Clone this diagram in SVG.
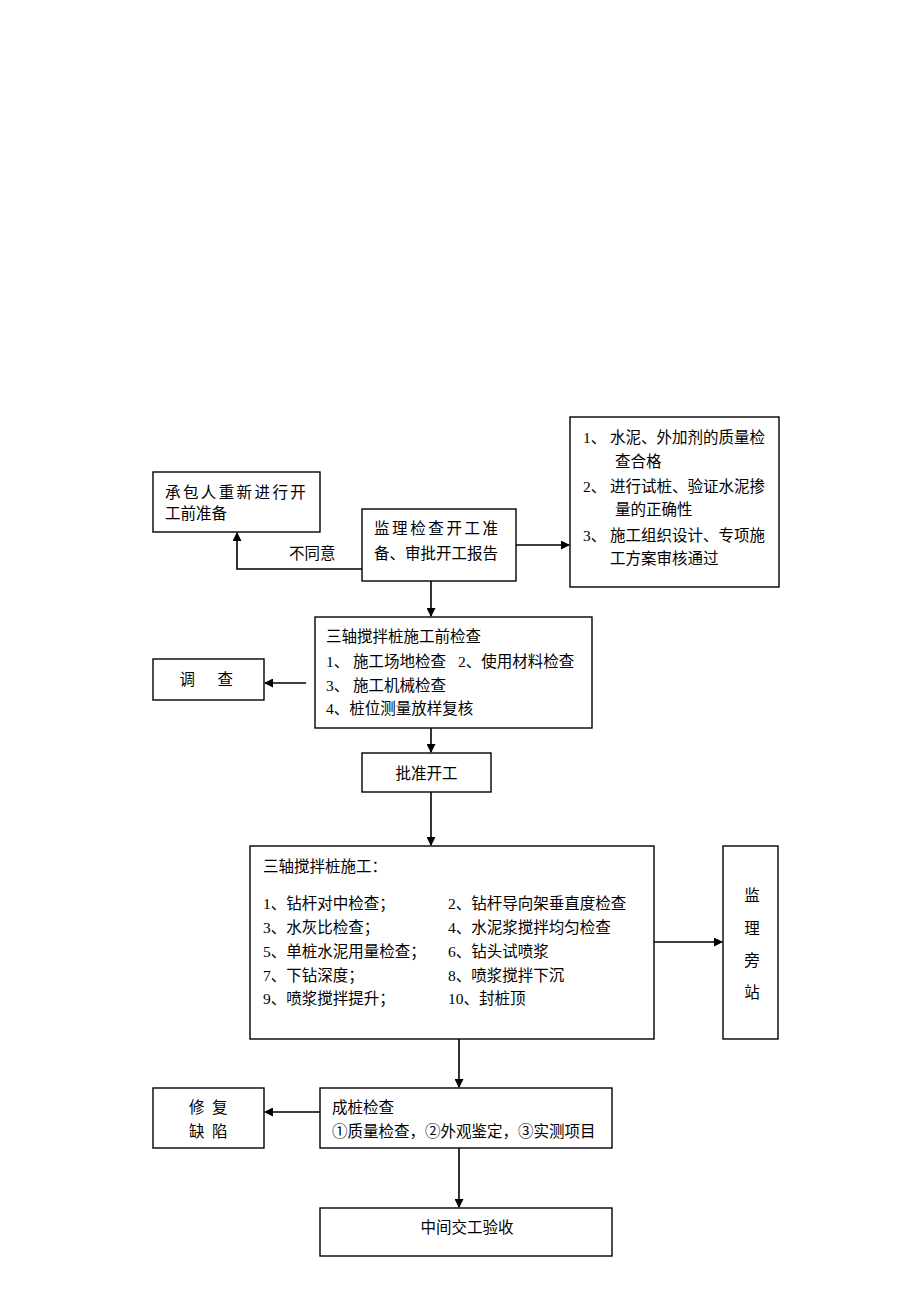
<svg xmlns="http://www.w3.org/2000/svg" width="920" height="1302" viewBox="0 0 920 1302">
<defs>
<style>
.box{fill:#fff;stroke:#000;stroke-width:1.4}
.t{font-family:"Liberation Serif","Noto Sans CJK SC",serif;font-size:15.5px;fill:#000}
.c{text-anchor:middle}
.ln{fill:none;stroke:#000;stroke-width:1.6}
</style>
<marker id="ah" markerWidth="9" markerHeight="9" refX="8" refY="4.5" orient="auto" markerUnits="userSpaceOnUse">
<path d="M0,0 L9,4.5 L0,9 z" fill="#000"/>
</marker>
</defs>
<rect width="920" height="1302" fill="#fff"/>

<g id="n-contractor">
<rect class="box" x="153" y="472" width="167" height="60"/>
<text class="t" x="165" y="498" letter-spacing="2.4">承包人重新进行开</text>
<text class="t" x="165" y="519">工前准备</text>
</g>

<g id="n-supervise">
<rect class="box" x="362" y="509" width="154" height="72"/>
<text class="t" x="374" y="534" letter-spacing="2.6">监理检查开工准</text>
<text class="t" x="374" y="559">备、审批开工报告</text>
</g>

<g id="n-conditions">
<rect class="box" x="570" y="417" width="209" height="170"/>
<text class="t" x="583" y="443">1、</text><text class="t" x="610" y="443">水泥、外加剂的质量检</text>
<text class="t" x="615" y="467">查合格</text>
<text class="t" x="583" y="492">2、</text><text class="t" x="610" y="492">进行试桩、验证水泥掺</text>
<text class="t" x="615" y="515">量的正确性</text>
<text class="t" x="583" y="541">3、</text><text class="t" x="610" y="541">施工组织设计、专项施</text>
<text class="t" x="610" y="564">工方案审核通过</text>
</g>

<g id="n-precheck">
<rect class="box" x="315" y="617" width="277" height="111"/>
<text class="t" x="326" y="642">三轴搅拌桩施工前检查</text>
<text class="t" y="667"><tspan x="326">1、</tspan><tspan x="353">施工场地检查</tspan><tspan x="458">2、使用材料检查</tspan></text>
<text class="t" y="691"><tspan x="326">3、</tspan><tspan x="353">施工机械检查</tspan></text>
<text class="t" x="326" y="714">4、桩位测量放样复核</text>
</g>

<g id="n-investigate">
<rect class="box" x="153" y="659" width="111" height="41"/>
<text class="t"><tspan x="179.5" y="685">调</tspan><tspan x="217.5" y="685">查</tspan></text>
</g>

<g id="n-approve">
<rect class="box" x="362" y="753" width="129" height="39"/>
<text class="t c" x="426.5" y="779">批准开工</text>
</g>

<g id="n-construct">
<rect class="box" x="250" y="846" width="404" height="193"/>
<text class="t" x="263" y="872">三轴搅拌桩施工：</text>
<text class="t" x="263" y="909">1、钻杆对中检查；</text>
<text class="t" x="263" y="933">3、水灰比检查；</text>
<text class="t" x="263" y="957">5、单桩水泥用量检查；</text>
<text class="t" x="263" y="981">7、下钻深度；</text>
<text class="t" x="263" y="1004">9、喷浆搅拌提升；</text>
<text class="t" x="448" y="909">2、钻杆导向架垂直度检查</text>
<text class="t" x="448" y="933">4、水泥浆搅拌均匀检查</text>
<text class="t" x="448" y="957">6、钻头试喷浆</text>
<text class="t" x="448" y="981">8、喷浆搅拌下沉</text>
<text class="t" x="448" y="1004">10、封桩顶</text>
</g>

<g id="n-sideline">
<rect class="box" x="723" y="846" width="55" height="193"/>
<text class="t c" x="752" y="901">监</text>
<text class="t c" x="752" y="934">理</text>
<text class="t c" x="752" y="966">旁</text>
<text class="t c" x="752" y="998">站</text>
</g>

<g id="n-pilecheck">
<rect class="box" x="320" y="1088" width="292" height="60"/>
<text class="t" x="332" y="1113">成桩检查</text>
<text class="t" x="332" y="1137">①质量检查，②外观鉴定，③实测项目</text>
</g>

<g id="n-repair">
<rect class="box" x="153" y="1088" width="111" height="60"/>
<text class="t"><tspan x="189" y="1113">修</tspan><tspan x="212" y="1113">复</tspan></text>
<text class="t"><tspan x="189" y="1137">缺</tspan><tspan x="212" y="1137">陷</tspan></text>
</g>

<g id="n-handover">
<rect class="box" x="320" y="1208" width="292" height="48"/>
<text class="t c" x="467" y="1233">中间交工验收</text>
</g>

<g id="connectors">
<path class="ln" d="M362,569 H237 V533" marker-end="url(#ah)"/>
<text class="t" x="289" y="559">不同意</text>
<path class="ln" d="M516,545 H569" marker-end="url(#ah)"/>
<path class="ln" d="M431,581 V616" marker-end="url(#ah)"/>
<path class="ln" d="M306,683 H265" marker-end="url(#ah)"/>
<path class="ln" d="M431,728 V752" marker-end="url(#ah)"/>
<path class="ln" d="M431,792 V845" marker-end="url(#ah)"/>
<path class="ln" d="M654,942 H722" marker-end="url(#ah)"/>
<path class="ln" d="M459,1039 V1087" marker-end="url(#ah)"/>
<path class="ln" d="M320,1112 H265" marker-end="url(#ah)"/>
<path class="ln" d="M459,1148 V1207" marker-end="url(#ah)"/>
</g>
</svg>
